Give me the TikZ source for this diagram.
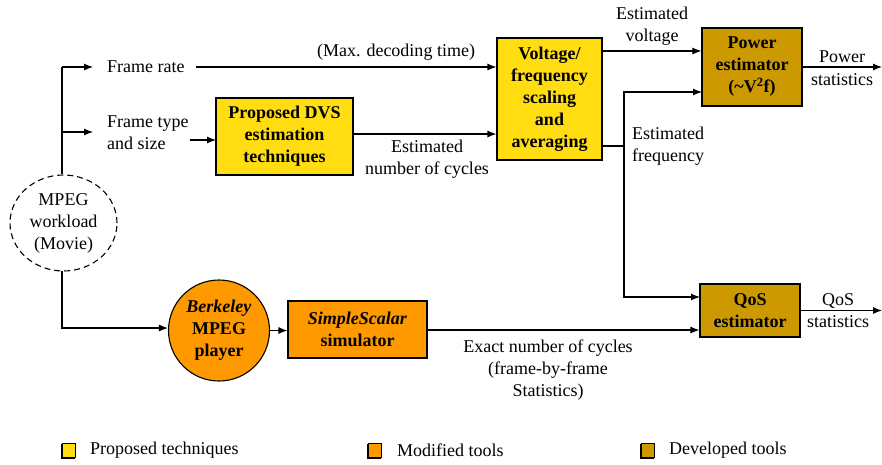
\documentclass[tikz,border=0pt]{standalone}
\usepackage{fontspec}
\setmainfont{Liberation Serif}
\usetikzlibrary{shapes.geometric,arrows.meta}
\definecolor{propyellow}{HTML}{FFDD11}
\definecolor{modorange}{HTML}{FF9900}
\definecolor{devgold}{HTML}{CC9900}
\tikzset{
  every node/.style={font=\fontsize{18}{22}\selectfont, align=center, inner sep=2pt},
  blk/.style={draw=black, line width=1.1pt, inner sep=0pt, font=\fontsize{18}{22}\selectfont\bfseries},
  arr/.style={-{Latex[length=9pt,width=7pt]}, line width=1.1pt},
  ln/.style={line width=1.1pt},
  lbl/.style={inner sep=0pt},
  legbox/.style={draw=black, line width=1pt},
}
\begin{document}
\begin{tikzpicture}[x=1pt,y=-1pt]
\useasboundingbox (0,0) rectangle (882,464);

% workload source
\node[ellipse, draw, dash pattern=on 6pt off 4pt, line width=1.1pt, minimum width=107pt, minimum height=96pt, inner sep=0pt]
  (mpeg) at (63.5,223) {MPEG\\workload\\(Movie)};

% inputs
\node[lbl, anchor=west] (frate) at (107,67) {Frame rate};
\node[lbl, anchor=west, align=left] (ftype) at (107,133) {Frame type\\and size};

% blocks
\node[blk, fill=propyellow, minimum width=137pt, minimum height=77pt] (dvs) at (284.5,136.5)
  {Proposed DVS\\estimation\\techniques};
\node[blk, fill=propyellow, minimum width=105pt, minimum height=122pt] (vf) at (549.5,99)
  {Voltage/\\frequency\\scaling\\and\\averaging};
\node[blk, fill=devgold, minimum width=100pt, minimum height=78pt] (power) at (752,67)
  {Power\\estimator\\(\textasciitilde V\textsuperscript{2}f)};
\node[blk, fill=devgold, minimum width=100pt, minimum height=53pt] (qos) at (750,310.5)
  {QoS\\estimator};
\node[circle, draw=black, line width=1.1pt, fill=modorange, minimum size=101pt, inner sep=0pt,
  font=\fontsize{18}{22}\selectfont\bfseries] (berk) at (219,330.5)
  {\textit{Berkeley}\\MPEG\\player};
\node[blk, fill=modorange, minimum width=139pt, minimum height=57pt] (ss) at (357.5,329.5)
  {\textit{SimpleScalar}\\simulator};

% branch points and free ends
\coordinate (top) at (62,67);
\coordinate (mid) at (62,132);
\coordinate (frtip) at (93,67);
\coordinate (fttip) at (93,132);
\coordinate (ftout) at (190,140);
\coordinate (dvsin) at (216,140);
\coordinate (frout) at (196,67);
\coordinate (vout) at (602,51);
\coordinate (fout) at (602,146);
\coordinate (fj) at (624,146);
\coordinate (pin2) at (702,92);
\coordinate (qin1) at (700,297);
\coordinate (pend) at (882,67);
\coordinate (qend) at (882,310.5);
\coordinate (mbot) at (62,271);

% workload to inputs
\draw[ln] (mpeg.north -| top) -- (top);
\draw[arr] (top) -- (frtip);
\draw[arr] (mid) -- (fttip);
\draw[arr] (ftout) -- (dvsin);
\draw[arr] (frout) -- (frout -| vf.west);
\draw[arr] (dvs.east |- 0,134) -- (vf.west |- 0,134);

% voltage and frequency
\draw[arr] (vout) -- (vout -| power.west);
\draw[ln] (fout) -- (fj);
\draw[arr] (fj) |- (pin2);
\draw[arr] (fj) |- (qin1);

% outputs
\draw[arr] (power.east |- pend) -- (pend);
\draw[arr] (qos.east) -- (qend);

% simulation path
\draw[arr] (mbot) |- (berk.west |- 0,328);
\draw[arr] (berk.east) -- (ss.west |- berk.east);
\draw[arr] (ss.east |- 0,330) -- (qos.west |- 0,330);

% connector labels
\node[lbl] (lmax) at (396,52) {(Max. decoding time)};
\node[lbl] (lcyc) at (427,159) {Estimated\\number of cycles};
\node[lbl] (lvolt) at (652,26) {Estimated\\voltage};
\node[lbl, anchor=west, align=left] (lfreq) at (632,146) {Estimated\\frequency};
\node[lbl] (lpow) at (842,68) {Power\\[1pt]statistics};
\node[lbl] (lqos) at (838,311) {QoS\\statistics};
\node[lbl] (lexact) at (548,370) {Exact number of cycles\\(frame-by-frame\\Statistics)};

% legend
\fill[black] (61,444) rectangle (75,459);
\draw[legbox, fill=propyellow] (62,443) rectangle (75,457);
\node[lbl, anchor=west] (leg1) at (90,450) {Proposed techniques};
\fill[black] (367,444) rectangle (381,459);
\draw[legbox, fill=modorange] (368,443) rectangle (381,457);
\node[lbl, anchor=west] (leg2) at (397,450) {Modified tools};
\fill[black] (640,444) rectangle (654,459);
\draw[legbox, fill=devgold] (641,443) rectangle (654,457);
\node[lbl, anchor=west] (leg3) at (669,450) {Developed tools};
\end{tikzpicture}
\end{document}
